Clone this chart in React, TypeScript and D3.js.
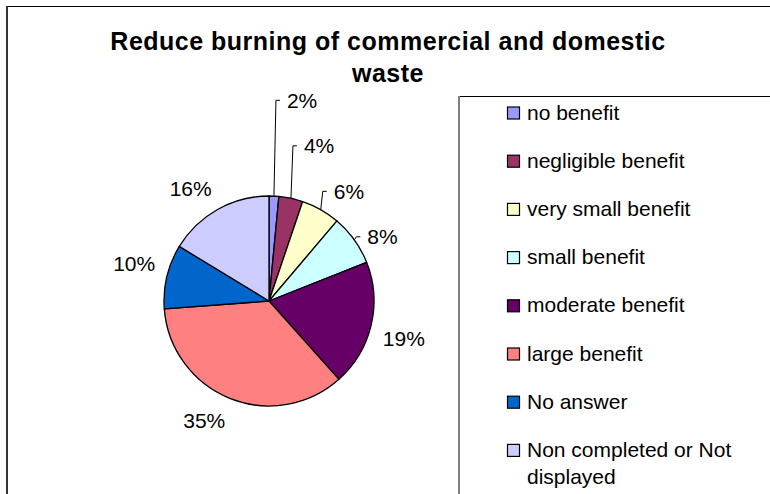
import React, { useMemo } from 'react';
import * as d3 from 'd3';

// chart data
const title = 'Reduce burning of commercial and domestic waste';
const categories = [
  'no benefit',
  'negligible benefit',
  'very small benefit',
  'small benefit',
  'moderate benefit',
  'large benefit',
  'No answer',
  'Non completed or Not displayed',
];
const values = [1.5, 3.7, 6.0, 7.8, 19.4, 35.4, 9.9, 16.3];
const pctLabels = ['2%', '4%', '6%', '8%', '19%', '35%', '10%', '16%'];
const colors = ['#9999FF', '#993366', '#FFFFCC', '#CCFFFF', '#660066', '#FF8080', '#0066CC', '#CCCCFF'];

const W = 770;
const H = 494;
const FONT = '"Liberation Sans", Arial, sans-serif';

function wrap(text: string, maxWidth: number, font: string): string[] {
  const ctx = document.createElement('canvas').getContext('2d');
  if (!ctx) return [text];
  ctx.font = font;
  const words = text.split(' ');
  const lines: string[] = [];
  let line = '';
  words.forEach((w) => {
    const test = line ? line + ' ' + w : w;
    if (line && ctx.measureText(test).width > maxWidth) {
      lines.push(line);
      line = w;
    } else {
      line = test;
    }
  });
  if (line) lines.push(line);
  return lines;
}

export default function App() {
  const cx = 269;
  const cy = 301;
  const r = 105;

  const arcs = useMemo(
    () =>
      d3
        .pie<number>()
        .value((d) => d)
        .sort(null)(values),
    []
  );
  const arc = d3.arc<d3.PieArcDatum<number>>().innerRadius(0).outerRadius(r);

  // label layout: small slices at the top right get stacked with leader lines,
  // the rest sit just outside the rim (box corner touching the label circle)
  const labels = useMemo(() => {
    const out: any[] = [];
    const gap = 12;
    const h = 21;
    let prevY = Infinity;
    const small = arcs
      .map((a, i) => ({ a, i }))
      .filter(({ a }) => a.endAngle - a.startAngle < 0.09 * 2 * Math.PI && (a.startAngle + a.endAngle) / 2 < Math.PI / 2)
      .reverse();
    small.forEach(({ a, i }) => {
      const mid = (a.startAngle + a.endAngle) / 2;
      const ex = cx + r * Math.sin(mid);
      const ey = cy - r * Math.cos(mid);
      const y = Math.min(ey - 3, prevY - 45.5);
      prevY = y;
      out[i] = {
        x: ex + 13,
        y,
        anchor: 'start',
        leader: `M${ex},${ey}L${ex + 2},${y}L${ex + 6},${y}`,
      };
    });
    arcs.forEach((a, i) => {
      if (out[i]) return;
      const mid = (a.startAngle + a.endAngle) / 2;
      const s = Math.sin(mid);
      const c = Math.cos(mid);
      const px = cx + (r + gap) * s;
      const py = cy - (r + gap) * c;
      out[i] = {
        x: px,
        y: py + (c > 0 ? -h / 2 : h / 2),
        anchor: s >= 0 ? 'start' : 'end',
        leader: null,
      };
    });
    return out;
  }, [arcs]);

  const titleLines = wrap(title, 580, `bold 25px ${FONT}`);
  const legendFont = `21px ${FONT}`;
  const legendX = 507;
  const legendY0 = 113;
  const legendStep = 48.2;

  return (
    <svg width={W} height={H} style={{ display: 'block', position: 'absolute', left: 0, top: 0 }} fontFamily={FONT}>
      <rect x={0} y={0} width={W} height={H} fill="#fff" />
      {/* outer chart frame (cut off at right and bottom) */}
      <line x1={6} y1={6.5} x2={W} y2={6.5} stroke="#000" strokeWidth={1} />
      <line x1={7} y1={6} x2={7} y2={H} stroke="#333" strokeWidth={2} />

      {titleLines.map((t, i) => (
        <text
          key={i}
          x={388}
          y={50 + i * 32}
          textAnchor="middle"
          fontSize={25}
          fontWeight="bold"
          letterSpacing={0.5}
          fill="#000"
        >
          {t}
        </text>
      ))}

      <g>
        {arcs.map((a, i) => (
          <path
            key={i}
            d={arc(a) || ''}
            transform={`translate(${cx},${cy})`}
            fill={colors[i]}
            stroke="#000"
            strokeWidth={1.3}
            strokeLinejoin="round"
          />
        ))}
      </g>

      {labels.map((l, i) => (
        <g key={i}>
          {l.leader && <path d={l.leader} fill="none" stroke="#000" strokeWidth={1} />}
          <text x={l.x} y={l.y} textAnchor={l.anchor} dominantBaseline="central" fontSize={21} fill="#000">
            {pctLabels[i]}
          </text>
        </g>
      ))}

      {/* legend box (cut off at right and bottom) */}
      <line x1={459} y1={96.5} x2={W} y2={96.5} stroke="#000" strokeWidth={1} />
      <line x1={459} y1={96} x2={459} y2={H} stroke="#808080" strokeWidth={2} />
      {categories.map((c, i) => {
        const y = legendY0 + i * legendStep;
        const lines = wrap(c, 232, legendFont);
        return (
          <g key={c}>
            <rect x={legendX + 0.5} y={y - 6} width={12} height={12} fill={colors[i]} stroke="#000" strokeWidth={1.2} />
            {lines.map((t, j) => (
              <text key={j} x={legendX + 20} y={y - 1 + j * 27} dominantBaseline="central" fontSize={21} fill="#000">
                {t}
              </text>
            ))}
          </g>
        );
      })}
    </svg>
  );
}
